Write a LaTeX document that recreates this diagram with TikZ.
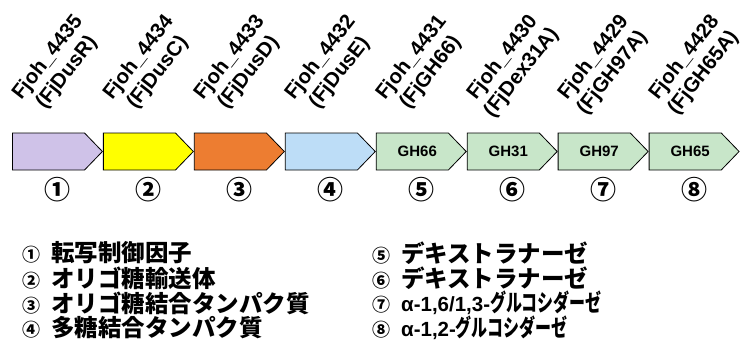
\documentclass[tikz,border=0pt]{standalone}
\usepackage{fontspec}
\setmainfont{Liberation Sans}
\newfontfamily\jpfont{Noto Sans CJK JP}
\usetikzlibrary{shapes.symbols, positioning}
\definecolor{dusr}{HTML}{CFC2E8}
\definecolor{dusc}{HTML}{FFFF00}
\definecolor{dusd}{HTML}{ED7D31}
\definecolor{duse}{HTML}{BDDDF7}
\definecolor{ghgreen}{HTML}{C8E6C9}
\newcommand{\cnum}[1]{{\jpfont\fontsize{18}{18}\selectfont #1}\hspace{11pt}}
\newcommand{\latin}[1]{{\rmfamily\fontsize{20.5}{25}\selectfont #1}}
\newcommand{\narrow}[1]{\scalebox{0.68}[1]{#1}}

\begin{document}
\begin{tikzpicture}[x=1pt,y=-1pt,node distance=0pt,
    gene/.style={draw,thick,signal,signal to=east,signal pointer angle=92,
        minimum width=90pt,minimum height=37pt,inner sep=0pt,
        font=\bfseries\fontsize{15}{15}\selectfont},
    tag/.style={rotate=52,align=center,inner sep=0pt,
        font=\bfseries\fontsize{20.5}{24}\selectfont},
    num/.style={font=\jpfont\bfseries\fontsize{26}{26}\selectfont},
    leg/.style={anchor=west,inner sep=0pt,
        font=\jpfont\bfseries\fontsize{23.5}{25}\selectfont}]
    \useasboundingbox (0,0) rectangle (747,348);
    % gene cluster
    \node[gene,fill=dusr,anchor=west] (g1) at (12,151.5) {};
    \node[gene,fill=dusc,right=of g1] (g2) {};
    \node[gene,fill=dusd,right=of g2] (g3) {};
    \node[gene,fill=duse,right=of g3] (g4) {};
    \node[gene,fill=ghgreen,right=of g4] (g5) {\hspace*{10pt}GH66};
    \node[gene,fill=ghgreen,right=of g5] (g6) {\hspace*{10pt}GH31};
    \node[gene,fill=ghgreen,right=of g6] (g7) {\hspace*{10pt}GH97};
    \node[gene,fill=ghgreen,right=of g7] (g8) {\hspace*{10pt}GH65};
    % locus tags
    \node[tag] (t1) at ([xshift=9pt,yshift=86pt]g1.center) {Fjoh\_4435\\(FjDusR)};
    \node[tag] (t2) at ([xshift=9pt,yshift=86pt]g2.center) {Fjoh\_4434\\(FjDusC)};
    \node[tag] (t3) at ([xshift=9pt,yshift=86pt]g3.center) {Fjoh\_4433\\(FjDusD)};
    \node[tag] (t4) at ([xshift=9pt,yshift=86pt]g4.center) {Fjoh\_4432\\(FjDusE)};
    \node[tag] (t5) at ([xshift=9pt,yshift=86pt]g5.center) {Fjoh\_4431\\(FjGH66)};
    \node[tag] (t6) at ([xshift=9pt,yshift=86pt]g6.center) {Fjoh\_4430\\(FjDex31A)};
    \node[tag] (t7) at ([xshift=9pt,yshift=86pt]g7.center) {Fjoh\_4429\\(FjGH97A)};
    \node[tag] (t8) at ([xshift=9pt,yshift=86pt]g8.center) {Fjoh\_4428\\(FjGH65A)};
    % numbers
    \node[num] (n1) at ([xshift=9pt,yshift=-38.5pt]g1.center) {①};
    \node[num] (n2) at ([xshift=9pt,yshift=-38.5pt]g2.center) {②};
    \node[num] (n3) at ([xshift=9pt,yshift=-38.5pt]g3.center) {③};
    \node[num] (n4) at ([xshift=9pt,yshift=-38.5pt]g4.center) {④};
    \node[num] (n5) at ([xshift=9pt,yshift=-38.5pt]g5.center) {⑤};
    \node[num] (n6) at ([xshift=9pt,yshift=-38.5pt]g6.center) {⑥};
    \node[num] (n7) at ([xshift=9pt,yshift=-38.5pt]g7.center) {⑦};
    \node[num] (n8) at ([xshift=9pt,yshift=-38.5pt]g8.center) {⑧};
    % legend
    \node[leg] (l1) at (22,253) {\cnum{①}転写制御因子};
    \node[leg] (l2) at (22,278) {\cnum{②}オリゴ糖輸送体};
    \node[leg] (l3) at (22,303) {\cnum{③}オリゴ糖結合タンパク質};
    \node[leg] (l4) at (22,328) {\cnum{④}多糖結合タンパク質};
    \node[leg] (l5) at (372,253) {\cnum{⑤}デキストラナーゼ};
    \node[leg] (l6) at (372,278) {\cnum{⑥}デキストラナーゼ};
    \node[leg] (l7) at (372,303) {\cnum{⑦}\latin{α-1,6/1,3-}\narrow{グルコシダーゼ}};
    \node[leg] (l8) at (372,328) {\cnum{⑧}\latin{α-1,2-}\narrow{グルコシダーゼ}};
\end{tikzpicture}
\end{document}
